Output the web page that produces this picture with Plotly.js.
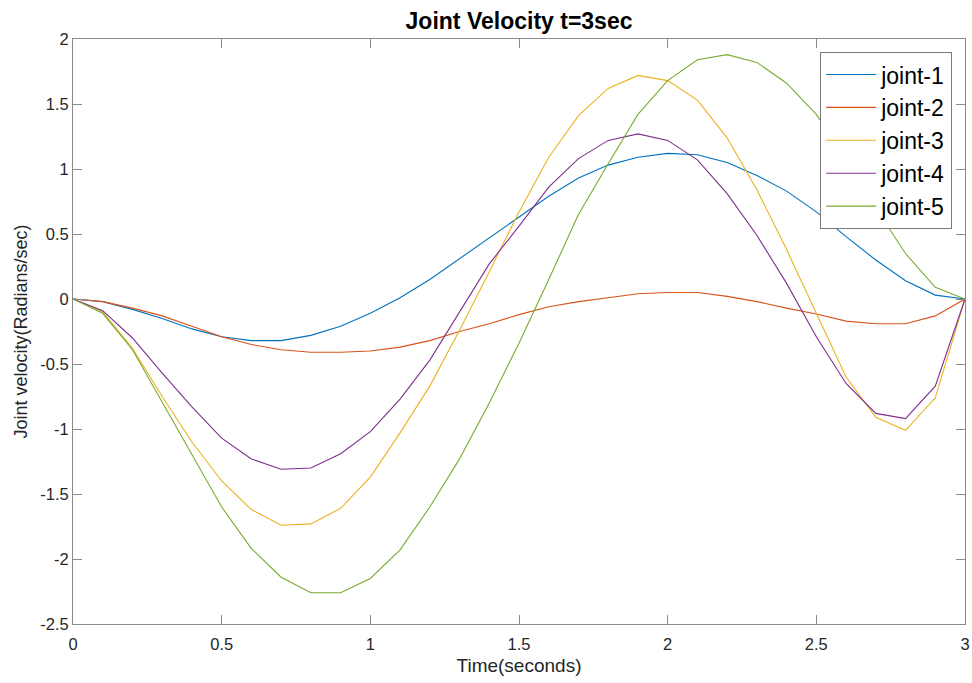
<!DOCTYPE html>
<html>
<head>
<meta charset="utf-8">
<script src="https://cdn.plot.ly/plotly-3.0.1.min.js"></script>
<style>html,body{margin:0;padding:0;background:#fff;}#chart{width:972px;height:683px;}</style>
</head>
<body>
<div id="chart"></div>
<script>
const time = [0,0.1,0.2,0.3,0.4,0.5,0.6,0.7,0.8,0.9,1.0,1.1,1.2,1.3,1.4,1.5,1.6,1.7,1.8,1.9,2.0,2.1,2.2,2.3,2.4,2.5,2.6,2.7,2.8,2.9,3.0];
const joint1 = [0,-0.02,-0.08,-0.15,-0.23,-0.29,-0.32,-0.32,-0.28,-0.21,-0.11,0.01,0.15,0.31,0.47,0.63,0.79,0.93,1.03,1.09,1.12,1.11,1.05,0.95,0.83,0.67,0.48,0.30,0.14,0.03,0];
const joint2 = [0,-0.02,-0.07,-0.13,-0.21,-0.29,-0.35,-0.39,-0.41,-0.41,-0.40,-0.37,-0.32,-0.25,-0.19,-0.12,-0.06,-0.02,0.01,0.04,0.05,0.05,0.02,-0.02,-0.07,-0.115,-0.17,-0.19,-0.19,-0.13,0];
const joint3 = [0,-0.10,-0.38,-0.75,-1.10,-1.40,-1.62,-1.74,-1.73,-1.61,-1.37,-1.03,-0.67,-0.24,0.21,0.67,1.09,1.41,1.62,1.72,1.68,1.53,1.24,0.84,0.38,-0.11,-0.60,-0.91,-1.01,-0.76,0];
const joint4 = [0,-0.09,-0.30,-0.57,-0.83,-1.07,-1.23,-1.31,-1.30,-1.19,-1.02,-0.77,-0.47,-0.10,0.27,0.56,0.86,1.08,1.22,1.27,1.22,1.07,0.81,0.49,0.12,-0.29,-0.65,-0.88,-0.92,-0.67,0];
const joint5 = [0,-0.11,-0.39,-0.79,-1.19,-1.60,-1.92,-2.14,-2.26,-2.26,-2.15,-1.93,-1.60,-1.23,-0.80,-0.34,0.15,0.65,1.04,1.42,1.68,1.84,1.88,1.82,1.66,1.42,1.08,0.70,0.35,0.09,0];
const names = ['joint-1','joint-2','joint-3','joint-4','joint-5'];
const colors = ['#0072BD','#D95319','#EDB120','#7E2F8E','#77AC30'];
const xTicks = [0,0.5,1,1.5,2,2.5,3];
const xTickText = ['0','0.5','1','1.5','2','2.5','3'];
const yTicks = [-2.5,-2,-1.5,-1,-0.5,0,0.5,1,1.5,2];
const yTickText = ['-2.5','-2','-1.5','-1','-0.5','0','0.5','1','1.5','2'];
const series = [joint1, joint2, joint3, joint4, joint5];

const FONT = 'Liberation Sans, Arial, sans-serif';

const traces = series.map((ys, i) => ({
  x: time, y: ys, type: 'scatter', mode: 'lines', name: names[i],
  line: {color: colors[i], width: 1.1}
}));

const axisCommon = {
  showgrid: false, zeroline: false, showline: true, linecolor: '#8a8a8a', linewidth: 1,
  mirror: 'ticks', ticks: 'inside', ticklen: 9, tickcolor: '#8a8a8a', tickwidth: 1,
  tickfont: {family: FONT, size: 16.5, color: '#262626'}
};

const layout = {
  width: 972, height: 683,
  margin: {l: 73, r: 7, t: 39, b: 59},
  paper_bgcolor: '#ffffff', plot_bgcolor: '#ffffff',
  title: {text: '<b>Joint Velocity t=3sec</b>', x: 0.534, xanchor: 'center', y: 0.969, yanchor: 'middle',
          font: {family: FONT, size: 23, color: '#000'}},
  xaxis: Object.assign({}, axisCommon, {
    range: [0, 3], tickvals: xTicks, ticktext: xTickText, ticklabelstandoff: 5,
    title: {text: 'Time(seconds)', standoff: 6, font: {family: FONT, size: 19, color: '#262626'}}
  }),
  yaxis: Object.assign({}, axisCommon, {
    range: [-2.5, 2], tickvals: yTicks, ticktext: yTickText,
    title: {text: 'Joint velocity(Radians/sec)', standoff: 7, font: {family: FONT, size: 18, color: '#262626'}}
  }),
  showlegend: true,
  legend: {
    x: 0.9854, xanchor: 'right', y: 0.978, yanchor: 'top',
    bgcolor: '#ffffff', bordercolor: '#7a7a7a', borderwidth: 1.2,
    font: {family: FONT, size: 23, color: '#000'},
    itemwidth: 50, tracegroupgap: 0
  }
};

Plotly.newPlot('chart', traces, layout, {displayModeBar: false, staticPlot: true});
</script>
</body>
</html>
